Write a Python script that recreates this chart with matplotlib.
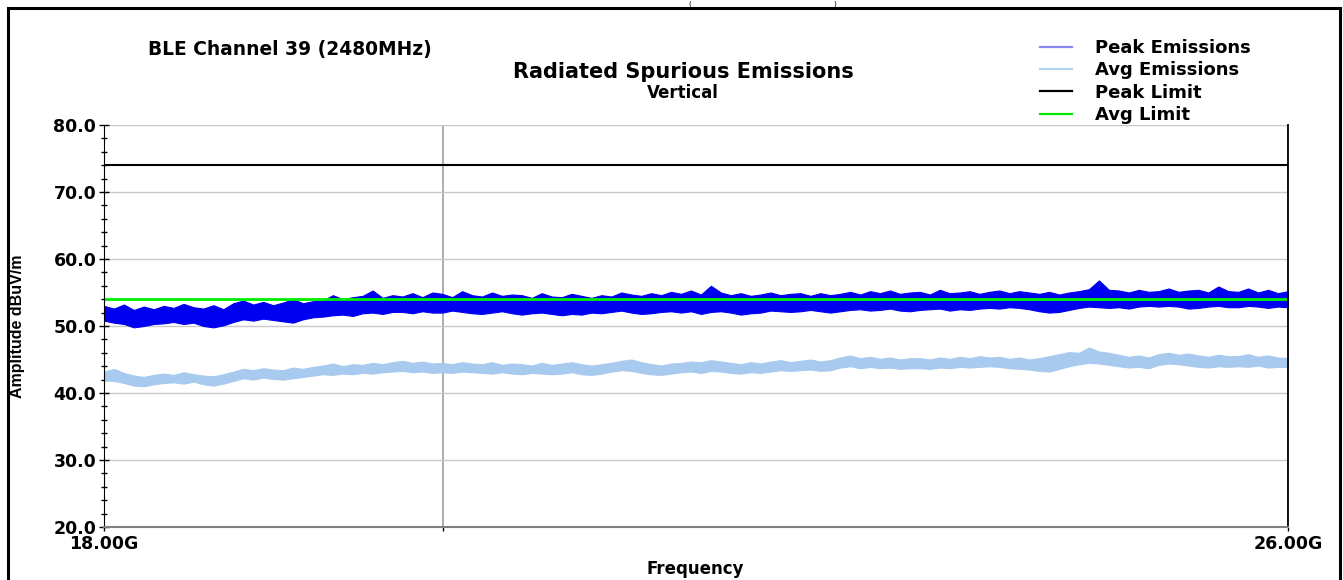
import numpy as np
import matplotlib.pyplot as plt
from matplotlib.lines import Line2D
from matplotlib.patches import Rectangle
from matplotlib.ticker import MultipleLocator

# trace envelopes (dBuV/m), 120 points from 18 to 26 GHz
peak_top = [
    53.0, 52.6, 53.2, 52.4, 52.9, 52.5, 53.0, 52.7, 53.3, 52.8, 52.6, 53.1,
    52.5, 53.4, 53.8, 53.2, 53.6, 53.1, 53.5, 54.0, 53.4, 53.7, 53.8, 54.6,
    54.0, 54.3, 54.5, 55.3, 54.2, 54.6, 54.4, 54.9, 54.3, 55.0, 54.8, 54.3,
    55.2, 54.6, 54.4, 55.0, 54.5, 54.7, 54.6, 54.2, 54.9, 54.4, 54.3, 54.8,
    54.5, 54.2, 54.6, 54.4, 55.0, 54.7, 54.5, 54.9, 54.6, 55.1, 54.8, 55.3,
    54.7, 56.0, 55.0, 54.6, 54.9, 54.5, 54.7, 55.0, 54.6, 54.8, 54.9, 54.5,
    54.9, 54.6, 54.8, 55.1, 54.7, 55.2, 54.9, 55.3, 54.8, 55.0, 55.1, 54.7,
    55.4, 54.9, 55.0, 55.2, 54.8, 55.1, 55.3, 54.9, 55.2, 55.0, 54.8, 55.1,
    54.7, 55.0, 55.2, 55.5, 56.8, 55.4, 55.3, 55.0, 55.4, 55.1, 55.2, 55.6,
    55.1, 55.3, 55.4, 55.0, 55.9, 55.2, 55.1, 55.6, 55.0, 55.4, 54.9, 55.2]
peak_bot = [
    50.8, 50.5, 50.3, 49.8, 50.0, 50.3, 50.4, 50.6, 50.3, 50.5, 50.0, 49.8,
    50.1, 50.6, 51.0, 50.8, 51.1, 50.9, 50.7, 50.5, 51.0, 51.3, 51.4, 51.6,
    51.7, 51.5, 51.9, 52.0, 51.8, 52.1, 52.1, 51.9, 52.2, 52.0, 52.0, 52.3,
    52.1, 51.9, 51.8, 52.0, 52.2, 51.9, 51.7, 51.9, 52.0, 51.8, 51.6, 51.8,
    51.7, 52.0, 51.9, 52.1, 52.3, 52.0, 51.8, 51.9, 52.1, 52.2, 52.0, 52.2,
    51.8, 52.1, 52.2, 52.0, 51.7, 51.9, 52.0, 52.3, 52.2, 52.1, 52.2, 52.4,
    52.2, 52.0, 52.2, 52.4, 52.5, 52.3, 52.4, 52.6, 52.3, 52.2, 52.4, 52.5,
    52.6, 52.3, 52.5, 52.4, 52.6, 52.7, 52.6, 52.8, 52.7, 52.5, 52.2, 52.0,
    52.1, 52.4, 52.7, 52.9, 52.8, 52.7, 52.8, 52.6, 52.9, 53.0, 52.9, 53.0,
    52.9, 52.6, 52.7, 52.9, 53.0, 52.8, 52.8, 53.0, 52.9, 52.7, 52.9, 52.8]
avg_top = [
    43.2, 43.6, 43.0, 42.6, 42.4, 42.7, 42.9, 42.7, 43.1, 42.8, 42.6, 42.5,
    42.8, 43.2, 43.6, 43.4, 43.7, 43.5, 43.4, 43.8, 43.6, 43.9, 44.1, 44.4,
    44.0, 44.3, 44.2, 44.5, 44.3, 44.6, 44.8, 44.5, 44.7, 44.4, 44.5, 44.3,
    44.6, 44.4, 44.3, 44.6, 44.2, 44.4, 44.3, 44.1, 44.5, 44.2, 44.4, 44.6,
    44.3, 44.1, 44.3, 44.5, 44.8, 45.0, 44.6, 44.3, 44.1, 44.4, 44.5, 44.7,
    44.6, 44.9, 44.7, 44.5, 44.3, 44.6, 44.4, 44.7, 44.9, 44.6, 44.8, 45.0,
    44.7, 44.9, 45.3, 45.6, 45.2, 45.4, 45.1, 45.3, 45.0, 45.2, 45.2, 45.0,
    45.3, 45.1, 45.4, 45.2, 45.5, 45.3, 45.4, 45.1, 45.3, 45.0, 45.2, 45.5,
    45.8, 46.1, 46.0, 46.8, 46.2, 46.0, 45.7, 45.4, 45.6, 45.3, 45.8, 46.0,
    45.7, 45.9, 45.6, 45.4, 45.7, 45.5, 45.5, 45.8, 45.4, 45.6, 45.3, 45.2]
avg_bot = [
    41.9, 41.8, 41.5, 41.1, 41.0, 41.3, 41.5, 41.6, 41.4, 41.7, 41.3, 41.1,
    41.4, 41.8, 42.2, 42.0, 42.3, 42.1, 42.0, 42.2, 42.4, 42.6, 42.8, 42.7,
    42.9, 42.8, 43.0, 42.9, 43.1, 43.2, 43.3, 43.1, 43.2, 43.0, 43.1, 43.0,
    43.2, 43.1, 43.0, 42.9, 43.1, 42.9, 42.8, 43.0, 42.9, 42.8, 42.9, 43.1,
    42.8, 42.7, 42.9, 43.2, 43.4, 43.3, 43.0, 42.8, 42.7, 42.9, 43.1, 43.2,
    43.0, 43.3, 43.2, 43.0, 42.9, 43.1, 43.0, 43.2, 43.4, 43.3, 43.4, 43.5,
    43.3, 43.4, 43.8, 44.0, 43.7, 43.9, 43.7, 43.8, 43.6, 43.7, 43.7, 43.6,
    43.8, 43.7, 43.9, 43.8, 43.9, 44.0, 43.9, 43.7, 43.6, 43.5, 43.3, 43.2,
    43.6, 44.0, 44.3, 44.5, 44.4, 44.2, 44.0, 43.8, 43.9, 43.7, 44.2, 44.4,
    44.3, 44.1, 43.9, 43.8, 44.0, 43.9, 44.0, 43.9, 44.1, 43.8, 43.9, 43.9]

peak_limit = 74.0
avg_limit = 54.0
marker_freq = 20.29

y_ticks = [20, 30, 40, 50, 60, 70, 80]
x_ticks = [18.0, marker_freq, 26.0]
x_ticklabels = ['18.00G', '', '26.00G']

legend_labels = ['Peak Emissions', 'Avg Emissions', 'Peak Limit', 'Avg Limit']
legend_colors = ['#8888F4', '#B4D4F4', '#000000', '#00E600']

plt.rcParams['font.family'] = 'DejaVu Sans'
plt.rcParams['font.weight'] = 'bold'

W, H = 1343, 580
fig = plt.figure(figsize=(W / 100, H / 100), dpi=100)
ax = fig.add_axes([104 / W, 1 - 527 / H, 1184 / W, 402 / H])

freq = np.linspace(18.0, 26.0, len(peak_top))
ax.fill_between(freq, avg_bot, avg_top, color='#A8CAEE', lw=0.8)
ax.fill_between(freq, peak_bot, peak_top, color='#0000F0', lw=0.8)
ax.axhline(peak_limit, color='black', lw=1.5)
ax.axhline(avg_limit, color='#00F000', lw=2)

ax.set_xlim(18, 26)
ax.set_ylim(20, 80)
ax.set_yticks(y_ticks)
ax.set_yticklabels([f'{v:.1f}' for v in y_ticks])
ax.yaxis.set_minor_locator(MultipleLocator(2))
ax.tick_params(axis='y', which='major', direction='inout', length=7, width=1, pad=2, labelsize=12.5)
ax.tick_params(axis='y', which='minor', direction='inout', length=5, width=1)
ax.set_xticks(x_ticks)
ax.set_xticklabels(x_ticklabels)
ax.tick_params(axis='x', direction='out', length=3, width=1, pad=3, labelsize=12.5)

ax.grid(axis='y', color='#C8C8C8', lw=1)
ax.grid(axis='x', color='#A0A0A0', lw=1.2)
ax.set_axisbelow(True)

ax.spines['top'].set_visible(False)
ax.spines['left'].set_color('black')
ax.spines['right'].set_color('black')
ax.spines['right'].set_linewidth(1.3)
ax.spines['bottom'].set_color('#808080')
ax.spines['bottom'].set_linewidth(1.5)

ax.set_ylabel('Amplitude dBuV/m', fontsize=11.5, fontfamily='Liberation Sans', fontweight='bold')
ax.yaxis.set_label_coords(-79 / 1184, 0.5)
ax.set_xlabel('Frequency', fontsize=12, fontweight='bold')
ax.xaxis.set_label_coords(0.499, -33 / 402)

handles = [Line2D([], [], color=c, lw=1.6) for c in legend_colors]
fig.legend(handles, legend_labels, loc='upper left', bbox_to_anchor=(1040 / W, 1 - 39 / H),
           frameon=False, fontsize=13, handlelength=1.77, handletextpad=1.27,
           labelspacing=0.24, borderpad=0, borderaxespad=0)

fig.text(148 / W, 1 - 50 / H, 'BLE Channel 39 (2480MHz)', ha='left', va='center', fontsize=13.4)
fig.text(683 / W, 1 - 72 / H, 'Radiated Spurious Emissions', ha='center', va='center', fontsize=15)
fig.text(683 / W, 1 - 93 / H, 'Vertical', ha='center', va='center', fontsize=12)

# bits of the caption above the frame
fig.text(690 / W, 1 - 0.5 / H, '(', ha='center', va='top', fontsize=5, fontweight='normal')
fig.text(835 / W, 1 - 0.5 / H, ')', ha='center', va='top', fontsize=5, fontweight='normal')

fig.add_artist(Rectangle((8 / W, -0.05), (1340 - 8) / W, 1 - 8 / H + 0.05,
                         transform=fig.transFigure, fill=False, ec='black', lw=2.2, clip_on=False))

fig.savefig('out.png', dpi=100)
